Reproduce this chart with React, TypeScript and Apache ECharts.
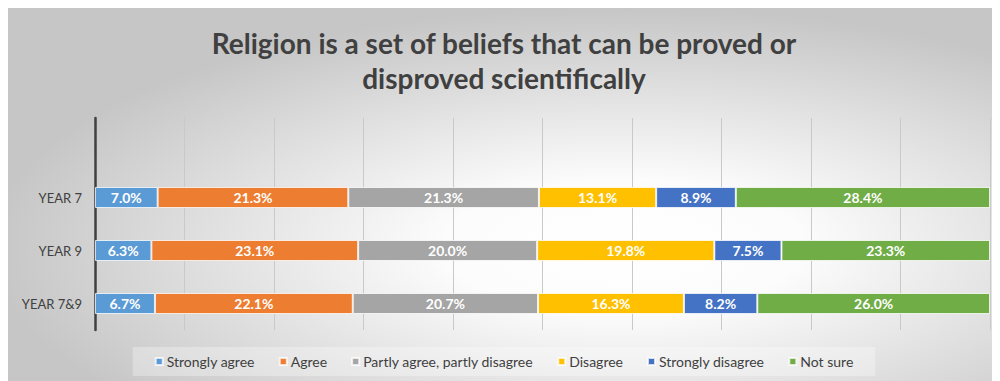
import React, { useEffect, useRef } from "react";
import * as echarts from "echarts";

// Survey responses (%) per year group
const groups = ["YEAR 7", "YEAR 9", "YEAR 7&9"];
const stronglyAgree = [7.0, 6.3, 6.7];
const agree = [21.3, 23.1, 22.1];
const partly = [21.3, 20.0, 20.7];
const disagree = [13.1, 19.8, 16.3];
const stronglyDisagree = [8.9, 7.5, 8.2];
const notSure = [28.4, 23.3, 26.0];

const seriesNames = [
  "Strongly agree",
  "Agree",
  "Partly agree, partly disagree",
  "Disagree",
  "Strongly disagree",
  "Not sure",
];
const seriesValues = [stronglyAgree, agree, partly, disagree, stronglyDisagree, notSure];
const seriesColors = ["#5B9BD5", "#ED7D31", "#A5A5A5", "#FFC000", "#4472C4", "#70AD47"];

const FONT = "Lato, 'Open Sans', sans-serif";
const WIDTH = 992;
const HEIGHT = 373;

export default function App() {
  const ref = useRef<HTMLDivElement>(null);

  useEffect(() => {
    document.body.style.overflow = "hidden";
    const chart = echarts.init(ref.current!, null, { renderer: "svg" });

    // a blank slot above the first group leaves headroom inside the plot
    const categories = ["", ...groups];

    chart.setOption({
      animation: false,
      textStyle: { fontFamily: FONT },
      graphic: [
        {
          type: "rect",
          z: -10,
          silent: true,
          shape: { x: 0, y: 0, width: WIDTH, height: HEIGHT },
          style: {
            fill: new echarts.graphic.RadialGradient(0.62, 0.64, 0.64, [
              { offset: 0, color: "#ffffff" },
              { offset: 0.28, color: "#fcfcfc" },
              { offset: 1, color: "#c6c6c6" },
            ]),
          },
        },
      ],
      title: {
        text: "Religion is a set of beliefs that can be proved or\ndisproved scientifically",
        left: WIDTH / 2,
        top: 17,
        padding: 0,
        textAlign: "center",
        textStyle: {
          fontFamily: FONT,
          fontSize: 28,
          fontWeight: "bold",
          lineHeight: 35,
          color: "#404040",
        },
      },
      legend: {
        data: seriesNames,
        top: 339,
        left: "center",
        icon: "rect",
        itemWidth: 7,
        itemHeight: 7,
        itemGap: 24,
        padding: [7, 22],
        backgroundColor: "rgba(255,255,255,0.3)",
        textStyle: { fontFamily: FONT, fontSize: 14, color: "#404040", lineHeight: 15, padding: [0, 0, 0, -1] },
      },
      grid: { left: 87, right: 10, top: 110, bottom: 51 },
      xAxis: {
        type: "value",
        min: 0,
        max: 100,
        interval: 10,
        axisLine: { show: false },
        axisTick: { show: false },
        axisLabel: { show: false },
        splitLine: { show: true, lineStyle: { color: "#c9c9c9", width: 1 } },
      },
      yAxis: {
        type: "category",
        inverse: true,
        data: categories,
        axisLine: { show: true, lineStyle: { color: "#404040", width: 2.5 } },
        axisTick: { show: false },
        axisLabel: { fontFamily: FONT, fontSize: 13, color: "#404040", margin: 13 },
      },
      series: seriesNames.map((name, i) => ({
        name,
        type: "bar",
        stack: "total",
        barWidth: 21,
        data: [null, ...seriesValues[i]],
        itemStyle: { color: seriesColors[i], borderColor: "rgba(255,255,255,0.75)", borderWidth: 1 },
        label: {
          show: true,
          position: "inside",
          fontFamily: FONT,
          fontSize: 14,
          fontWeight: "bold",
          color: "#ffffff",
          formatter: (p: any) => (p.value == null ? "" : Number(p.value).toFixed(1) + "%"),
        },
      })),
    });

    return () => chart.dispose();
  }, []);

  return <div ref={ref} style={{ width: WIDTH, height: HEIGHT }} />;
}
